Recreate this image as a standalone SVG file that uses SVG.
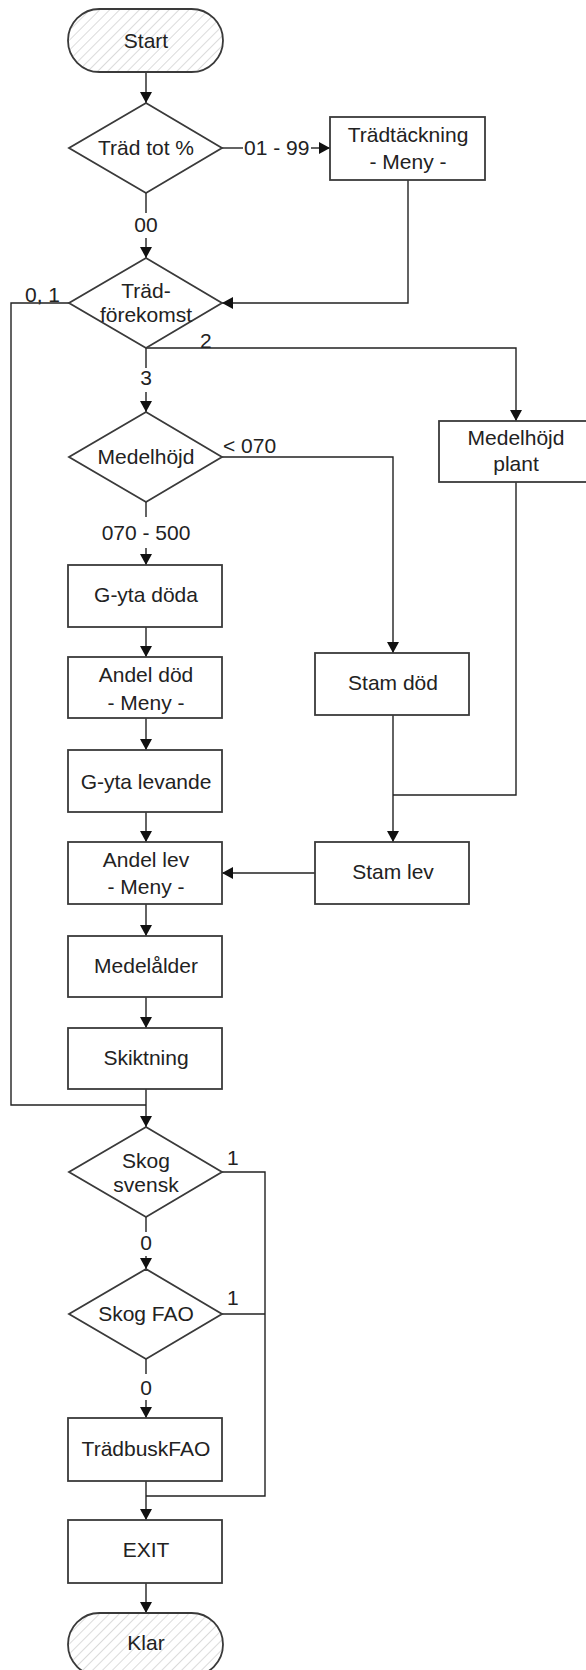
<svg xmlns="http://www.w3.org/2000/svg" width="586" height="1670" viewBox="0 0 586 1670">
<style>
.shape{fill:#fff;stroke:#3a3a3a;stroke-width:1.8}
.term{fill:url(#hatch);stroke:#3a3a3a;stroke-width:1.8}
.t{font-family:"Liberation Sans",Arial,sans-serif;font-size:21px;fill:#222;text-anchor:middle}
.l{font-family:"Liberation Sans",Arial,sans-serif;font-size:21px;fill:#222}
.c{fill:none;stroke:#222;stroke-width:1.4}
.a{marker-end:url(#arr)}
</style>
<defs>
<pattern id="hatch" width="7" height="7" patternUnits="userSpaceOnUse" patternTransform="rotate(45)">
<rect width="7" height="7" fill="#fff"/>
<line x1="0" y1="0" x2="0" y2="7" stroke="#c4c4c4" stroke-width="1.2"/>
</pattern>
<marker id="arr" markerUnits="userSpaceOnUse" markerWidth="14" markerHeight="14" refX="11" refY="6" orient="auto">
<path d="M0,0 L11,6 L0,12 Z" fill="#111"/>
</marker>
</defs>

<g id="connectors">
<line class="c a" x1="146" y1="72" x2="146" y2="103"/>
<line class="c" x1="222" y1="148" x2="243" y2="148"/>
<line class="c a" x1="311" y1="148" x2="330" y2="148"/>
<line class="c" x1="146" y1="193" x2="146" y2="213"/>
<line class="c a" x1="146" y1="238" x2="146" y2="258"/>
<polyline class="c a" points="408,180 408,303 222,303"/>
<polyline class="c" points="69,303 11,303 11,1105 146,1105"/>
<polyline class="c a" points="146,348 516,348 516,421"/>
<line class="c" x1="146" y1="348" x2="146" y2="368"/>
<line class="c a" x1="146" y1="392" x2="146" y2="412"/>
<polyline class="c a" points="222,457 393,457 393,653"/>
<line class="c" x1="146" y1="502" x2="146" y2="517"/>
<line class="c a" x1="146" y1="548" x2="146" y2="565"/>
<line class="c a" x1="146" y1="627" x2="146" y2="657"/>
<line class="c a" x1="146" y1="718" x2="146" y2="750"/>
<line class="c a" x1="146" y1="812" x2="146" y2="842"/>
<line class="c a" x1="146" y1="904" x2="146" y2="936"/>
<line class="c a" x1="146" y1="997" x2="146" y2="1028"/>
<line class="c a" x1="146" y1="1089" x2="146" y2="1127"/>
<line class="c a" x1="393" y1="715" x2="393" y2="842"/>
<polyline class="c" points="516,482 516,795 393,795"/>
<line class="c a" x1="315" y1="873" x2="222" y2="873"/>
<polyline class="c" points="222,1172 265,1172 265,1496 146,1496"/>
<line class="c" x1="222" y1="1314" x2="265" y2="1314"/>
<line class="c" x1="146" y1="1217" x2="146" y2="1232"/>
<line class="c a" x1="146" y1="1256" x2="146" y2="1269"/>
<line class="c" x1="146" y1="1359" x2="146" y2="1374"/>
<line class="c a" x1="146" y1="1400" x2="146" y2="1418"/>
<line class="c a" x1="146" y1="1481" x2="146" y2="1520"/>
<line class="c a" x1="146" y1="1583" x2="146" y2="1613"/>
<text class="l" x="244" y="155">01 - 99</text>
<text class="t" x="146" y="232">00</text>
<text class="l" x="25" y="302">0, 1</text>
<text class="l" x="200" y="348">2</text>
<text class="t" x="146" y="385">3</text>
<text class="l" x="223" y="453">&lt; 070</text>
<text class="t" x="146" y="540">070 - 500</text>
<text class="l" x="227" y="1165">1</text>
<text class="t" x="146" y="1250">0</text>
<text class="l" x="227" y="1305">1</text>
<text class="t" x="146" y="1395">0</text>
</g>

<g id="start">
<rect class="term" x="68" y="9" width="155" height="63" rx="31.5"/>
<text class="t" x="146" y="48">Start</text>
</g>
<g id="trad-tot">
<polygon class="shape" points="146,103 222,148 146,193 69,148"/>
<text class="t" x="146" y="155">Träd tot %</text>
</g>
<g id="tradtackning">
<rect class="shape" x="330" y="117" width="155" height="63"/>
<text class="t" x="408" y="142">Trädtäckning</text>
<text class="t" x="408" y="169">- Meny -</text>
</g>
<g id="trad-forekomst">
<polygon class="shape" points="146,258 222,303 146,348 69,303"/>
<text class="t" x="146" y="298">Träd-</text>
<text class="t" x="146" y="322">förekomst</text>
</g>
<g id="medelhojd">
<polygon class="shape" points="146,412 222,457 146,502 69,457"/>
<text class="t" x="146" y="464">Medelhöjd</text>
</g>
<g id="medelhojd-plant">
<rect class="shape" x="439" y="421" width="155" height="61"/>
<text class="t" x="516" y="445">Medelhöjd</text>
<text class="t" x="516" y="471">plant</text>
</g>
<g id="gyta-doda">
<rect class="shape" x="68" y="565" width="154" height="62"/>
<text class="t" x="146" y="602">G-yta döda</text>
</g>
<g id="andel-dod">
<rect class="shape" x="68" y="657" width="154" height="61"/>
<text class="t" x="146" y="682">Andel död</text>
<text class="t" x="146" y="710">- Meny -</text>
</g>
<g id="stam-dod">
<rect class="shape" x="315" y="653" width="154" height="62"/>
<text class="t" x="393" y="690">Stam död</text>
</g>
<g id="gyta-levande">
<rect class="shape" x="68" y="750" width="154" height="62"/>
<text class="t" x="146" y="789">G-yta levande</text>
</g>
<g id="andel-lev">
<rect class="shape" x="68" y="842" width="154" height="62"/>
<text class="t" x="146" y="867">Andel lev</text>
<text class="t" x="146" y="894">- Meny -</text>
</g>
<g id="stam-lev">
<rect class="shape" x="315" y="842" width="154" height="62"/>
<text class="t" x="393" y="879">Stam lev</text>
</g>
<g id="medelalder">
<rect class="shape" x="68" y="936" width="154" height="61"/>
<text class="t" x="146" y="973">Medelålder</text>
</g>
<g id="skiktning">
<rect class="shape" x="68" y="1028" width="154" height="61"/>
<text class="t" x="146" y="1065">Skiktning</text>
</g>
<g id="skog-svensk">
<polygon class="shape" points="146,1127 222,1172 146,1217 69,1172"/>
<text class="t" x="146" y="1168">Skog</text>
<text class="t" x="146" y="1192">svensk</text>
</g>
<g id="skog-fao">
<polygon class="shape" points="146,1269 222,1314 146,1359 69,1314"/>
<text class="t" x="146" y="1321">Skog FAO</text>
</g>
<g id="tradbuskfao">
<rect class="shape" x="68" y="1418" width="154" height="63"/>
<text class="t" x="146" y="1456">TrädbuskFAO</text>
</g>
<g id="exit">
<rect class="shape" x="68" y="1520" width="154" height="63"/>
<text class="t" x="146" y="1557">EXIT</text>
</g>
<g id="klar">
<rect class="term" x="68" y="1613" width="155" height="63" rx="31.5"/>
<text class="t" x="146" y="1650">Klar</text>
</g>
</svg>
